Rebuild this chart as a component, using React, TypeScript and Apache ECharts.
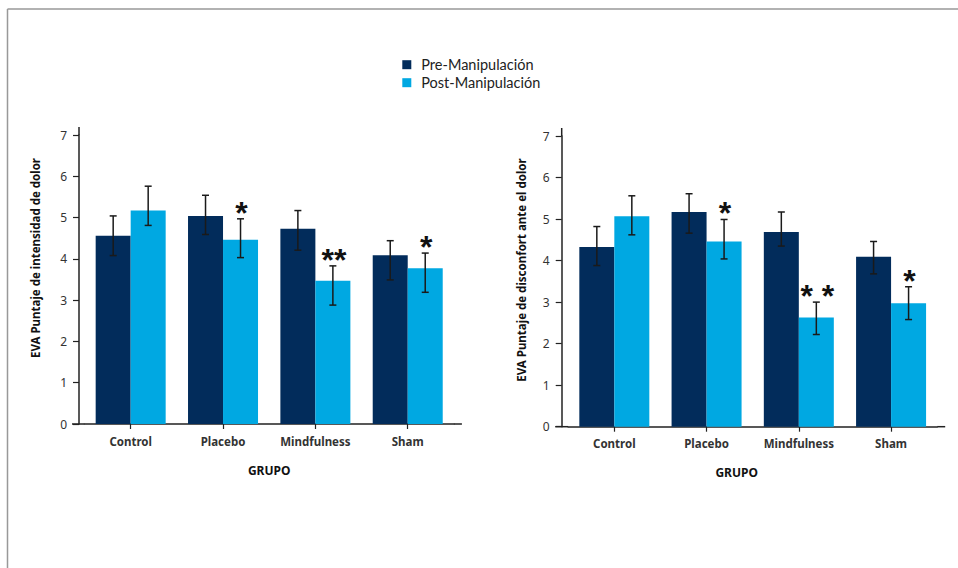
import React, { useEffect, useRef } from "react";
import * as echarts from "echarts";

const categories = ["Control", "Placebo", "Mindfulness", "Sham"];
const seriesNames = ["Pre-Manipulación", "Post-Manipulación"];
const yNames = ["EVA Puntaje de intensidad de dolor", "EVA Puntaje de disconfort ante el dolor"];
const xName = "GRUPO";

// Left chart: EVA intensidad de dolor
const intensityPre = [4.56, 5.04, 4.73, 4.09];
const intensityPreLow = [4.08, 4.59, 4.21, 3.49];
const intensityPreHigh = [5.04, 5.54, 5.17, 4.44];
const intensityPost = [5.17, 4.46, 3.47, 3.77];
const intensityPostLow = [4.81, 4.03, 2.88, 3.19];
const intensityPostHigh = [5.76, 4.97, 3.83, 4.14];
const intensitySig = ["", "*", "**", "*"];

// Right chart: EVA disconfort ante el dolor
const discomfortPre = [4.33, 5.17, 4.69, 4.09];
const discomfortPreLow = [3.88, 4.66, 4.35, 3.68];
const discomfortPreHigh = [4.82, 5.61, 5.17, 4.46];
const discomfortPost = [5.07, 4.46, 2.63, 2.97];
const discomfortPostLow = [4.62, 4.04, 2.22, 2.58];
const discomfortPostHigh = [5.56, 4.99, 3.0, 3.37];
const discomfortSig = ["", "*", "* *", "*"];

const yTicks = { min: 0, max: 7, interval: 1 };

const DARK = "#022c5b";
const LIGHT = "#00a8e2";
const AXIS = "#222222";
const FONT = "'Noto Sans', sans-serif";
const BAR_W = 35;

const GL = { left: 84.5, width: 369.4, top: 135, height: 289, yOff: 5.5, extL: 12.5, extR: 8, extT: 8, nameX: 35, nameY: 258 };
const GR = { left: 568.2, width: 369, top: 136, height: 290.7, yOff: 6.5, extL: 13, extR: 8, extT: 8, nameX: 521.7, nameY: 270 };

function errSeries(gridIdx: number, low: number[], high: number[], side: number, sig: string[], name: string) {
  return {
    type: "custom",
    name,
    xAxisIndex: gridIdx,
    yAxisIndex: gridIdx,
    z: 5,
    silent: true,
    encode: { x: 0, y: [1, 2] },
    data: low.map((l, i) => [i, l, high[i]]),
    renderItem: (params: any, api: any) => {
      const i = api.value(0);
      const top = api.coord([i, api.value(2)]);
      const bot = api.coord([i, api.value(1)]);
      const x = top[0] + (side * BAR_W) / 2;
      const cap = 3.5;
      const st = { stroke: "#1a1a1a", lineWidth: 1.5 };
      const children: any[] = [
        { type: "line", shape: { x1: x, y1: top[1], x2: x, y2: bot[1] }, style: st },
        { type: "line", shape: { x1: x - cap, y1: top[1], x2: x + cap, y2: top[1] }, style: st },
        { type: "line", shape: { x1: x - cap, y1: bot[1], x2: x + cap, y2: bot[1] }, style: st },
      ];
      const s = sig[params.dataIndex] || "";
      if (s) {
        children.push({
          type: "text",
          x: x + 1,
          y: top[1] + 10,
          style: {
            text: s,
            fill: "#111",
            fontSize: 32,
            fontWeight: "bold",
            fontFamily: "'Liberation Sans', Arial, sans-serif",
            align: "center",
            verticalAlign: "bottom",
          },
        });
      }
      return { type: "group", children };
    },
  };
}

function barSeries(gridIdx: number, name: string, data: number[], color: string) {
  return {
    type: "bar",
    name,
    xAxisIndex: gridIdx,
    yAxisIndex: gridIdx,
    data,
    barWidth: BAR_W,
    barGap: "0%",
    itemStyle: { color },
  };
}

function xAxis(gridIdx: number, namePad: number[]) {
  return {
    type: "category",
    gridIndex: gridIdx,
    data: categories,
    boundaryGap: true,
    axisLine: { show: true, lineStyle: { color: AXIS, width: 1.5 } },
    axisTick: { show: true, alignWithLabel: true, length: 5, lineStyle: { color: AXIS, width: 1.2 } },
    axisLabel: { margin: 11, fontSize: 11.5, fontWeight: "bold", color: "#333", fontFamily: FONT },
    name: xName,
    nameLocation: "middle",
    nameGap: 40,
    nameTextStyle: { fontSize: 12, fontWeight: "bold", color: "#111", fontFamily: FONT, padding: namePad },
  };
}

function yAxis(gridIdx: number, off: number) {
  return {
    type: "value",
    gridIndex: gridIdx,
    min: yTicks.min,
    max: yTicks.max,
    interval: yTicks.interval,
    offset: off,
    splitLine: { show: false },
    axisLine: { show: true, lineStyle: { color: AXIS, width: 1.5 } },
    axisTick: { show: true, length: 6, lineStyle: { color: AXIS, width: 1.2 } },
    axisLabel: { margin: 12, fontSize: 12, color: "#333", fontFamily: FONT },
  };
}

function extLines(g: typeof GL) {
  const yBase = g.top + g.height;
  const yAxisX = g.left - g.yOff;
  const st = { stroke: AXIS, lineWidth: 1.5 };
  return [
    { type: "line", shape: { x1: g.left - g.extL, y1: yBase, x2: g.left, y2: yBase }, style: st },
    { type: "line", shape: { x1: g.left + g.width, y1: yBase, x2: g.left + g.width + g.extR, y2: yBase }, style: st },
    { type: "line", shape: { x1: yAxisX, y1: g.top - g.extT, x2: yAxisX, y2: g.top }, style: st },
  ];
}

function yNameText(g: typeof GL, text: string) {
  return {
    type: "text",
    x: g.nameX,
    y: g.nameY,
    rotation: Math.PI / 2,
    style: {
      text,
      fill: "#111",
      fontSize: 11.5,
      fontWeight: "bold",
      fontFamily: FONT,
      align: "center",
      verticalAlign: "middle",
    },
  };
}

export default function App() {
  const ref = useRef<HTMLDivElement>(null);
  useEffect(() => {
    if (!ref.current) return;
    const chart = echarts.init(ref.current, undefined, { renderer: "svg" });
    chart.setOption({
      animation: false,
      backgroundColor: "#ffffff",
      textStyle: { fontFamily: FONT },
      legend: {
        data: seriesNames,
        orient: "vertical",
        left: 397.3,
        top: 52.2,
        itemWidth: 9,
        itemHeight: 9,
        itemGap: 3,
        icon: "rect",
        textStyle: { fontSize: 14.5, color: "#222", fontFamily: "Lato, 'Noto Sans', sans-serif", lineHeight: 14, padding: [0, 0, 0, 5] },
      },
      grid: [
        { left: GL.left, top: GL.top, width: GL.width, height: GL.height },
        { left: GR.left, top: GR.top, width: GR.width, height: GR.height },
      ],
      xAxis: [xAxis(0, [0, 0, 0, 0]), xAxis(1, [0, 32, 0, 0])],
      yAxis: [yAxis(0, GL.yOff), yAxis(1, GR.yOff)],
      graphic: [
        { type: "line", shape: { x1: 7.5, y1: 9, x2: 958, y2: 9 }, style: { stroke: "#999", lineWidth: 1.5 } },
        { type: "line", shape: { x1: 7.5, y1: 9, x2: 7.5, y2: 568 }, style: { stroke: "#999", lineWidth: 1.5 } },
        ...extLines(GL),
        ...extLines(GR),
        yNameText(GL, yNames[0]),
        yNameText(GR, yNames[1]),
      ],
      series: [
        barSeries(0, seriesNames[0], intensityPre, DARK),
        barSeries(0, seriesNames[1], intensityPost, LIGHT),
        barSeries(1, seriesNames[0], discomfortPre, DARK),
        barSeries(1, seriesNames[1], discomfortPost, LIGHT),
        errSeries(0, intensityPreLow, intensityPreHigh, -1, ["", "", "", ""], "errPreL"),
        errSeries(0, intensityPostLow, intensityPostHigh, 1, intensitySig, "errPostL"),
        errSeries(1, discomfortPreLow, discomfortPreHigh, -1, ["", "", "", ""], "errPreR"),
        errSeries(1, discomfortPostLow, discomfortPostHigh, 1, discomfortSig, "errPostR"),
      ],
    });
    return () => chart.dispose();
  }, []);
  return <div ref={ref} style={{ position: "fixed", left: 0, top: 0, width: 958, height: 568 }} />;
}
